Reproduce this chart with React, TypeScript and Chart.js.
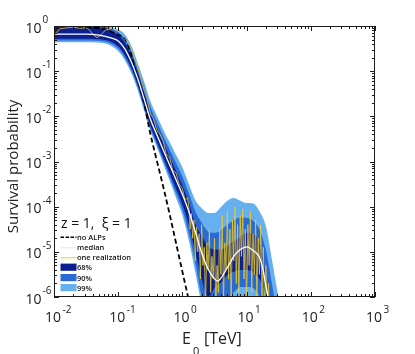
import React, { useEffect, useRef } from 'react';
import { Chart, registerables } from 'chart.js';

Chart.register(...registerables);

// ---- data (log10 values: energy in TeV, survival probability) ----
const xTickExps = [-2, -1, 0, 1, 2, 3];
const yTickExps = [0, -1, -2, -3, -4, -5, -6];

const noAlpLogE = [-2, -1.5, -1.2, -1.0, -0.9, -0.85, -0.8, -0.7, -0.6, -0.5, -0.4, -0.3, -0.2, -0.1, 0.0, 0.1, 0.2];
const noAlpLogP = [-0.01, -0.03, -0.07, -0.2, -0.27, -0.42, -0.62, -1.17, -1.68, -2.38, -2.97, -3.55, -4.16, -4.8, -5.44, -6.08, -6.8];

const medianLogE = [-2, -1.5, -1.3, -1.1, -1.0, -0.9, -0.8, -0.7, -0.6, -0.5, -0.4, -0.3, -0.2, -0.1, 0.0, 0.1, 0.2, 0.3, 0.4, 0.5, 0.55, 0.6, 0.7, 0.8, 0.9, 1.0, 1.1, 1.2, 1.25, 1.3, 1.35];
const medianLogP = [-0.18, -0.18, -0.2, -0.27, -0.33, -0.5, -0.78, -1.15, -1.6, -2.06, -2.4, -2.74, -3.07, -3.4, -3.73, -4.1, -4.55, -5.02, -5.38, -5.6, -5.65, -5.58, -5.35, -5.1, -4.95, -4.89, -4.97, -5.12, -5.35, -5.75, -6.1];

const bandLogE = [-2, -1.5, -1.2, -1.0, -0.9, -0.8, -0.7, -0.6, -0.5, -0.4, -0.3, -0.2, -0.1, 0.0, 0.1, 0.2, 0.3, 0.4, 0.5, 0.6, 0.7, 0.8, 0.9, 1.0, 1.1, 1.2, 1.3, 1.4, 1.5, 1.6];
const band99Upper = [0, 0, -0.01, -0.08, -0.18, -0.42, -0.8, -1.22, -1.66, -1.98, -2.29, -2.57, -2.85, -3.13, -3.5, -3.85, -4.03, -4.14, -4.14, -4.01, -3.87, -3.81, -3.87, -3.92, -3.93, -4.1, -4.43, -5.22, -6.05, -7];
const band90Upper = [-0.01, -0.01, -0.03, -0.13, -0.26, -0.52, -0.9, -1.33, -1.78, -2.11, -2.43, -2.73, -3.03, -3.33, -3.7, -4.1, -4.35, -4.55, -4.58, -4.52, -4.4, -4.3, -4.24, -4.25, -4.31, -4.5, -4.96, -5.75, -6.6, -7];
const band68Upper = [-0.03, -0.03, -0.07, -0.2, -0.36, -0.64, -1.01, -1.45, -1.91, -2.24, -2.57, -2.89, -3.21, -3.53, -3.9, -4.38, -4.65, -4.87, -4.95, -4.95, -4.87, -4.76, -4.67, -4.58, -4.6, -4.82, -5.5, -6.5, -7, -7];
const band68Lower = [-0.28, -0.28, -0.31, -0.45, -0.63, -0.91, -1.28, -1.74, -2.2, -2.55, -2.9, -3.25, -3.6, -3.95, -4.4, -5.0, -5.6, -6.0, -5.8, -5.68, -5.52, -5.44, -5.4, -5.4, -5.45, -5.6, -5.95, -6.5, -7, -7];
const band90Lower = [-0.32, -0.32, -0.35, -0.5, -0.69, -0.97, -1.34, -1.8, -2.26, -2.62, -2.98, -3.34, -3.7, -4.07, -4.6, -5.25, -6.0, -6.6, -6.5, -6.2, -6.05, -5.9, -5.78, -5.78, -5.8, -6.0, -6.5, -7, -7, -7];
const band99Lower = [-0.36, -0.36, -0.39, -0.56, -0.75, -1.03, -1.4, -1.86, -2.32, -2.68, -3.05, -3.42, -3.8, -4.19, -4.75, -5.45, -6.2, -7, -7, -7, -7, -7, -7, -7, -7, -7, -7, -7, -7, -7];

const realLogE = [-2, -1.95, -1.9, -1.8, -1.7, -1.6, -1.5, -1.45, -1.4, -1.33, -1.27, -1.2, -1.1, -1.0, -0.9, -0.8, -0.7, -0.6, -0.55, -0.5, -0.45, -0.4, -0.35, -0.3, -0.25, -0.2, -0.15, -0.1, -0.05, 0.0, 0.04, 0.08,
  0.10, 0.12, 0.14, 0.16, 0.18, 0.20, 0.22, 0.24, 0.26, 0.28, 0.30, 0.32, 0.34, 0.36, 0.38, 0.40, 0.42, 0.44, 0.46, 0.48, 0.50, 0.52, 0.54, 0.56, 0.58, 0.60, 0.62, 0.64, 0.66, 0.68, 0.70, 0.72, 0.74, 0.76, 0.78, 0.80,
  0.82, 0.84, 0.86, 0.88, 0.90, 0.92, 0.94, 0.96, 0.98, 1.00, 1.02, 1.04, 1.06, 1.08, 1.10, 1.12, 1.14, 1.16, 1.18, 1.20, 1.22, 1.24, 1.26, 1.28, 1.30, 1.32, 1.34, 1.36, 1.38, 1.40];
const realLogP = [-0.2, -0.12, -0.06, -0.04, -0.03, -0.05, -0.04, -0.08, -0.18, -0.26, -0.2, -0.09, -0.05, -0.12, -0.25, -0.5, -0.9, -1.4, -1.6, -1.95, -2.05, -2.3, -2.4, -2.55, -2.85, -2.9, -3.2, -3.25, -3.5, -3.6, -3.85, -3.8,
  -4.0, -4.5, -4.15, -4.7, -4.3, -5.2, -4.45, -5.0, -4.6, -5.6, -4.4, -5.3, -4.9, -6.2, -4.8, -5.4, -4.5, -5.9, -5.1, -5.6, -4.7, -6.3, -5.3, -5.9, -4.5, -5.5, -4.2, -6.1, -4.8, -5.4, -4.1, -5.6, -4.5, -6.2, -4.3, -5.2,
  -4.0, -5.7, -4.4, -5.9, -4.2, -5.1, -4.05, -5.6, -4.5, -6.2, -4.4, -5.3, -4.1, -5.9, -4.6, -5.5, -4.3, -6.1, -4.7, -5.5, -4.4, -6.0, -4.9, -6.4, -5.3, -6.2, -5.7, -6.8, -6.3, -7];

const legendTitle = 'z = 1,  ξ = 1';
const legendLabels = ['no ALPs', 'median', 'one realization', '68%', '90%', '99%'];

const C68 = '#0b1f8e';
const C90 = '#2a6ad6';
const C99 = '#66b0f0';
const CYEL = '#e8cc2c';

const pts = (xs: number[], ys: number[]) => xs.map((x, i) => ({ x: Math.pow(10, x), y: Math.pow(10, ys[i]) }));

const FONT = '"Open Sans", "DejaVu Sans", sans-serif';

const decorPlugin = {
  id: 'decor',
  afterDraw(chart: any) {
    const ctx = chart.ctx as CanvasRenderingContext2D;
    const a = chart.chartArea;
    const xs = chart.scales.x;
    const ys = chart.scales.y;
    ctx.save();
    ctx.strokeStyle = '#1a1a1a';
    ctx.lineWidth = 1;
    ctx.strokeRect(a.left + 0.5, a.top + 0.5, a.right - a.left - 1, a.bottom - a.top - 1);
    ctx.beginPath();
    for (let d = -2; d <= 3; d++) {
      for (let m = 1; m <= 9; m++) {
        const v = m * Math.pow(10, d);
        if (v > 1000.0001) continue;
        const px = Math.round(xs.getPixelForValue(v)) + 0.5;
        const len = m === 1 ? 5 : 3;
        ctx.moveTo(px, a.bottom);
        ctx.lineTo(px, a.bottom - len);
        ctx.moveTo(px, a.top);
        ctx.lineTo(px, a.top + len);
      }
    }
    for (let d = -6; d <= 0; d++) {
      for (let m = 1; m <= 9; m++) {
        const v = m * Math.pow(10, d);
        if (v > 1.0001) continue;
        const py = Math.round(ys.getPixelForValue(v)) + 0.5;
        const len = m === 1 ? 5 : 3;
        ctx.moveTo(a.left, py);
        ctx.lineTo(a.left + len, py);
        ctx.moveTo(a.right, py);
        ctx.lineTo(a.right - len, py);
      }
    }
    ctx.stroke();

    ctx.fillStyle = '#222';
    // y tick labels
    yTickExps.forEach((e) => {
      const py = ys.getPixelForValue(Math.pow(10, e));
      ctx.font = `14px ${FONT}`;
      ctx.textAlign = 'right';
      ctx.textBaseline = 'alphabetic';
      ctx.fillText('10', 41.5, py + 6.5);
      ctx.font = `10px ${FONT}`;
      ctx.textAlign = 'left';
      ctx.fillText(String(e), 42.5, py - 3);
    });
    // x tick labels
    xTickExps.forEach((e) => {
      const px = xs.getPixelForValue(Math.pow(10, e));
      ctx.font = `14px ${FONT}`;
      ctx.textAlign = 'center';
      ctx.fillText('10', px - 1, 321.5);
      ctx.font = `10px ${FONT}`;
      ctx.textAlign = 'left';
      ctx.fillText(String(e), px + 8.5, 313);
    });
    // axis titles
    ctx.save();
    ctx.translate(18, 166.5);
    ctx.rotate(-Math.PI / 2);
    ctx.textAlign = 'center';
    ctx.font = `15px ${FONT}`;
    ctx.fillText('Survival probability', 0, 0);
    ctx.restore();
    ctx.textAlign = 'left';
    ctx.font = `16px ${FONT}`;
    ctx.fillText('E', 182, 343.5);
    ctx.fillText('[TeV]', 204, 343.5);
    ctx.font = `11px ${FONT}`;
    ctx.fillText('0', 193, 355);

    // legend
    ctx.fillStyle = '#111';
    ctx.font = `14px ${FONT}`;
    ctx.fillText(legendTitle, 61, 227.5);
    const rowY = [237.3, 247.3, 257.3, 267.3, 277.7, 287.7];
    ctx.font = `600 7.5px ${FONT}`;
    legendLabels.forEach((lab, i) => {
      const y = rowY[i];
      if (i === 0) {
        ctx.save();
        ctx.strokeStyle = '#000';
        ctx.lineWidth = 1.6;
        ctx.setLineDash([3.5, 1.5]);
        ctx.beginPath();
        ctx.moveTo(60.5, y);
        ctx.lineTo(76.5, y);
        ctx.stroke();
        ctx.restore();
      } else if (i === 1 || i === 2) {
        ctx.save();
        ctx.strokeStyle = i === 1 ? '#e6e6e6' : CYEL;
        ctx.lineWidth = 1;
        ctx.beginPath();
        ctx.moveTo(60.5, y + 0.5);
        ctx.lineTo(76.5, y + 0.5);
        ctx.stroke();
        ctx.restore();
      } else {
        ctx.fillStyle = i === 3 ? C68 : i === 4 ? C90 : C99;
        ctx.fillRect(60.5, y - 3.7, 16, 7.2);
      }
      ctx.fillStyle = '#111';
      ctx.fillText(lab, 77, y + 2.8);
    });
    ctx.restore();
  },
};

export default function App() {
  const ref = useRef<HTMLCanvasElement>(null);
  useEffect(() => {
    const edge = { borderWidth: 0, pointRadius: 0, cubicInterpolationMode: 'monotone' as const };
    const chart = new Chart(ref.current as HTMLCanvasElement, {
      type: 'line',
      data: {
        datasets: [
          { label: 'median', data: pts(medianLogE, medianLogP), borderColor: '#ffffff', borderWidth: 1.3, pointRadius: 0, cubicInterpolationMode: 'monotone', fill: false },
          { label: 'one realization', data: pts(realLogE, realLogP), borderColor: CYEL, borderWidth: 0.8, pointRadius: 0, tension: 0, fill: false },
          { label: 'no ALPs', data: pts(noAlpLogE, noAlpLogP), borderColor: '#000000', borderWidth: 1.8, borderDash: [5, 3], pointRadius: 0, cubicInterpolationMode: 'monotone', fill: false },
          { label: '68%', data: pts(bandLogE, band68Upper), ...edge, fill: '+1', backgroundColor: C68 },
          { label: '68% low', data: pts(bandLogE, band68Lower), ...edge, fill: false },
          { label: '90%', data: pts(bandLogE, band90Upper), ...edge, fill: '+1', backgroundColor: C90 },
          { label: '90% low', data: pts(bandLogE, band90Lower), ...edge, fill: false },
          { label: '99%', data: pts(bandLogE, band99Upper), ...edge, fill: '+1', backgroundColor: C99 },
          { label: '99% low', data: pts(bandLogE, band99Lower), ...edge, fill: false },
        ] as any,
      },
      options: {
        animation: false,
        responsive: false,
        devicePixelRatio: 1,
        layout: { padding: { left: 54, top: 26, right: 40, bottom: 57 } },
        plugins: { legend: { display: false }, tooltip: { enabled: false }, title: { display: false } },
        scales: {
          x: { type: 'logarithmic', min: 0.01, max: 1000, display: false },
          y: { type: 'logarithmic', min: 1e-6, max: 1, display: false },
        },
      },
      plugins: [decorPlugin],
    });
    return () => chart.destroy();
  }, []);
  return (
    <div style={{ position: 'fixed', left: 0, top: 0, width: 415, height: 354, background: '#fff' }}>
      <canvas ref={ref} width={415} height={354} style={{ display: 'block', width: 415, height: 354 }} />
    </div>
  );
}
